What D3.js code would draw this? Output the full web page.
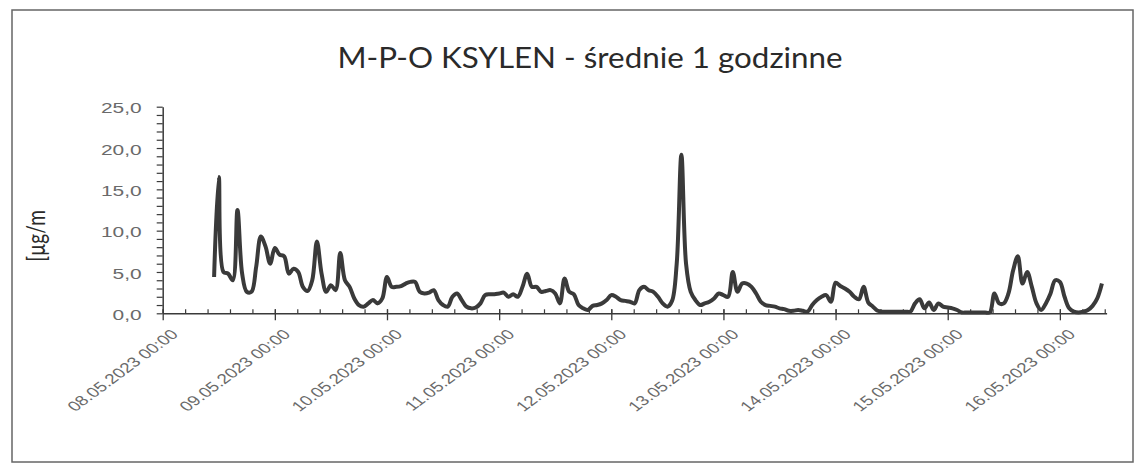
<!DOCTYPE html>
<html>
<head>
<meta charset="utf-8">
<script src="https://cdn.jsdelivr.net/npm/d3@7"></script>
<style>
  body { margin: 0; background: #fff; }
  svg { display: block; font-family: Lato, "Open Sans", sans-serif; }
</style>
</head>
<body>
<svg id="chart"></svg>
<script>
// hourly averages, first value at 08.05.2023 11:00
const firstHour = new Date(2023, 4, 8, 11);
const xylene = [
  4.4, 16.5, 5.0, 4.8, 4.0, 12.5, 4.8, 2.6, 2.6, 5.6, 9.3, 8.1, 6.0,
  7.9, 7.1, 6.9, 4.8, 5.4, 5.0, 3.2, 2.7, 4.0, 8.7, 4.8, 2.6, 3.4, 2.8, 7.3, 4.0, 3.2, 1.8, 1.0, 0.8, 1.2, 1.6, 1.2, 1.8,
  4.4, 3.2, 3.2, 3.3, 3.6, 3.8, 3.8, 2.6, 2.4, 2.5, 2.8, 1.6, 1.0, 0.8, 2.0, 2.4, 1.6, 0.8, 0.6, 0.7, 1.2, 2.2, 2.3, 2.3, 2.4,
  2.5, 2.0, 2.3, 2.0, 3.2, 4.8, 3.2, 3.2, 2.6, 2.7, 2.8, 2.4, 1.2, 4.2, 2.6, 2.3, 1.0, 0.6, 0.4, 0.9, 1.0, 1.2, 1.6,
  2.2, 2.0, 1.6, 1.5, 1.4, 1.2, 2.8, 3.2, 2.8, 2.6, 2.0, 1.2, 0.8, 1.5, 6.0, 19.2, 6.0, 2.6, 1.6, 1.0, 1.2, 1.4, 1.8, 2.4, 2.2, 2.0,
  5.0, 2.6, 3.6, 3.6, 3.2, 2.4, 1.4, 1.0, 0.9, 0.8, 0.6, 0.5, 0.3, 0.3, 0.4, 0.3, 0.2, 1.0, 1.6, 2.0, 2.2, 1.4,
  3.7, 3.3, 3.0, 2.6, 2.0, 1.7, 3.2, 1.3, 0.8, 0.3, 0.2, 0.2, 0.2, 0.2, 0.2, 0.2, 0.2, 1.2, 1.7, 0.6, 1.3, 0.4, 1.2, 0.8,
  0.7, 0.6, 0.4, 0.1, 0.1, 0.1, 0.1, 0.1, 0.1, 0.1, 2.4, 1.2, 1.2, 2.4, 5.2, 6.9, 3.6, 5.0, 3.2, 1.2, 0.4, 1.2, 2.4,
  4.0, 3.8, 2.0, 0.6, 0.2, 0.1, 0.2, 0.4, 0.9, 1.8, 3.6
];
const dayLabels = [
  '08.05.2023 00:00', '09.05.2023 00:00', '10.05.2023 00:00', '11.05.2023 00:00',
  '12.05.2023 00:00', '13.05.2023 00:00', '14.05.2023 00:00', '15.05.2023 00:00', '16.05.2023 00:00'
];
const yTicks = [0, 5, 10, 15, 20, 25];
const axisStart = new Date(2023, 4, 8, 0);
const axisEnd = new Date(2023, 4, 16, 10);

const W = 1144, H = 471;
const margin = { top: 106.7, left: 162.7, right: 37.4, bottom: 157.7 };
const width = W - margin.left - margin.right;
const height = H - margin.top - margin.bottom;
const SX = 1.35; // the scanned chart is stretched sideways
const ink = '#3a3a3a';
const labelInk = '#6a6a6a';

const svg = d3.select('#chart').attr('width', W).attr('height', H);

svg.append('rect')
  .attr('x', 12).attr('y', 10)
  .attr('width', 1121).attr('height', 452)
  .attr('fill', '#fff').attr('stroke', '#666').attr('stroke-width', 1.5);

const data = xylene.map((v, i) => ({ t: d3.timeHour.offset(firstHour, i), v }));
const dayTicks = dayLabels.map(s => {
  const [d, m, y] = s.slice(0, 10).split('.').map(Number);
  return new Date(y, m - 1, d);
});

const x = d3.scaleTime().domain([axisStart, axisEnd]).range([0, width]);
const y = d3.scaleLinear().domain([0, 25]).range([height, 0]);

const chart = svg.append('g').attr('transform', `translate(${margin.left},${margin.top})`);

// title
svg.append('text')
  .attr('transform', `translate(590,68) scale(1.12,1)`)
  .attr('text-anchor', 'middle')
  .attr('font-size', 28)
  .attr('fill', '#2a2a2a')
  .text('M-P-O KSYLEN - średnie 1 godzinne');

// y axis title
svg.append('text')
  .attr('transform', `translate(45,236) rotate(-90) scale(1,${SX})`)
  .attr('text-anchor', 'middle')
  .attr('font-size', 19)
  .attr('fill', '#2a2a2a')
  .text('[µg/m');

// y axis, minor ticks every 1
const yAxis = d3.axisLeft(y)
  .tickValues(d3.range(0, 26, 1))
  .tickSize(6)
  .tickSizeOuter(0)
  .tickFormat(d => yTicks.includes(d) ? d3.format('.1f')(d).replace('.', ',') : '');
const yg = chart.append('g').call(yAxis);
yg.select('.domain').attr('stroke', ink).attr('stroke-width', 1.5);
yg.selectAll('.tick line').attr('stroke', ink).attr('stroke-width', 1.2);
yg.selectAll('.tick text')
  .attr('x', null).attr('dy', '0.4em')
  .attr('transform', `translate(-21,0) scale(${SX},1)`)
  .attr('font-size', 15.5).attr('fill', labelInk);

// x axis minor ticks (0.2 day, inside)
const minorTicks = d3.range(0, 8.45, 0.2).map(d => new Date(+axisStart + d * 864e5));
const xMinor = d3.axisBottom(x).tickValues(minorTicks).tickSize(-4).tickSizeOuter(0).tickFormat('');
const xmg = chart.append('g').attr('transform', `translate(0,${height})`).call(xMinor);
xmg.select('.domain').attr('stroke', ink).attr('stroke-width', 1.5);
xmg.selectAll('.tick line').attr('stroke', ink).attr('stroke-width', 1.2);

// x axis major ticks (cross)
const xAxis = d3.axisBottom(x).tickValues(dayTicks).tickSize(7).tickSizeOuter(0)
  .tickFormat((d, i) => dayLabels[i]);
const xg = chart.append('g').attr('transform', `translate(0,${height})`).call(xAxis);
xg.select('.domain').remove();
xg.selectAll('.tick line').attr('y1', -4).attr('stroke', ink).attr('stroke-width', 1.3);
xg.selectAll('.tick text')
  .attr('x', null).attr('y', null).attr('dy', null)
  .attr('text-anchor', 'end')
  .attr('transform', `translate(16,22) scale(${SX},1) rotate(-45)`)
  .attr('font-size', 14).attr('fill', labelInk);

// series
const line = d3.line()
  .x(d => x(d.t))
  .y(d => y(d.v))
  .curve(d3.curveCatmullRom.alpha(0.5));

chart.append('path')
  .datum(data)
  .attr('fill', 'none')
  .attr('stroke', ink)
  .attr('stroke-width', 4)
  .attr('stroke-linejoin', 'round')
  .attr('d', line);
</script>
</body>
</html>
